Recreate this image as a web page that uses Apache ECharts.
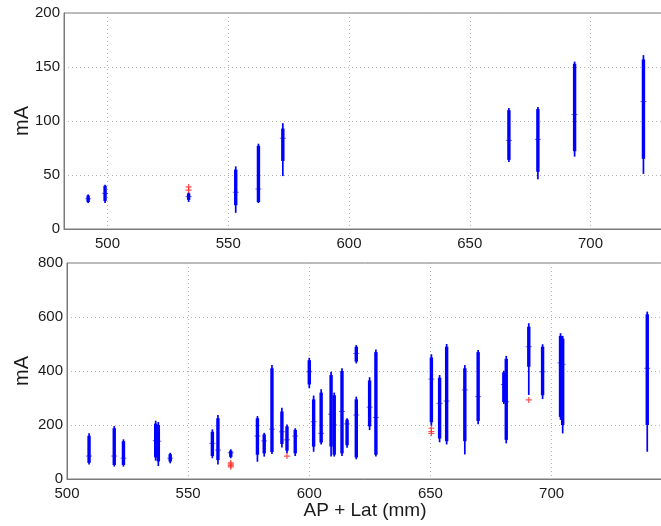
<!DOCTYPE html>
<html>
<head>
<meta charset="utf-8">
<script src="https://cdn.jsdelivr.net/npm/echarts@6/dist/echarts.min.js"></script>
<style>
html,body{margin:0;padding:0;background:#fff;}
#chart{width:661px;height:526px;}
</style>
</head>
<body>
<div id="chart"></div>
<script>
// ---------- Top panel data ----------
var topX    = [492, 499, 533.6, 553.1, 562.5, 572.6, 666.2, 678.2, 693.4, 721.9];
var topLow  = [24, 24, 25, 15, 24, 49, 62, 46, 67, 51];
var topQ1   = [25, 26, 27, 22, 25, 63, 64, 53, 72, 65];
var topMed  = [28, 33, 30, 34, 37, 84, 82, 83, 106, 118];
var topQ3   = [31, 40, 33, 55, 77, 93, 110, 111, 153, 157];
var topHigh = [32, 41, 34, 58, 79, 98, 112, 113, 155, 161];
var topOutX = [533.6, 533.6];
var topOutY = [36, 39];

// ---------- Bottom panel data ----------
var botX    = [509.1, 519.5, 523.3, 536.6, 537.7, 542.6, 560, 562.3, 567.6, 578.6, 581.4, 584.6, 588.7, 590.8, 594.2, 600, 601.8, 604.9, 609, 610.3, 613.5, 615.6, 619.4, 619.4, 624.9, 627.5, 650.4, 653.8, 656.7, 664.2, 669.7, 680.3, 681.3, 690.6, 696.3, 703.7, 704.6, 739.5];
var botLow  = [54, 46, 46, 68, 48, 58, 77, 54, 77, 64, 83, 93, 117, 95, 85, 336, 101, 128, 83, 83, 85, 116, 428, 73, 181, 83, 196, 136, 128, 91, 203, 278, 132, 311, 296, 219, 169, 101];
var botQ1   = [60, 52, 52, 80, 65, 65, 85, 70, 82, 90, 95, 100, 130, 105, 95, 350, 120, 135, 120, 90, 95, 125, 435, 80, 195, 90, 210, 150, 140, 140, 215, 285, 145, 416, 310, 230, 200, 200];
var botMed  = [85, 85, 77, 142, 140, 77, 132, 107, 97, 159, 141, 185, 175, 145, 159, 397, 212, 169, 240, 200, 250, 204, 465, 237, 266, 228, 370, 280, 289, 330, 305, 350, 286, 490, 397, 430, 425, 410];
var botQ3   = [160, 188, 140, 205, 200, 92, 175, 225, 105, 225, 165, 410, 250, 195, 182, 440, 295, 320, 385, 310, 400, 220, 490, 295, 365, 470, 450, 375, 490, 410, 470, 395, 445, 564, 490, 530, 520, 610];
var botHigh = [169, 196, 147, 216, 211, 97, 184, 237, 110, 233, 171, 422, 264, 202, 188, 449, 309, 332, 397, 320, 410, 225, 496, 305, 377, 480, 462, 385, 500, 422, 478, 401, 456, 577, 499, 540, 530, 620];
var botOutX = [567.6, 567.6, 567.6, 567.6, 590.8, 650.4, 650.4, 650.4, 690.6];
var botOutY = [45, 50, 55, 60, 85, 169, 176, 188, 293];

// tick labels
var topXTicks = [500, 550, 600, 650, 700];
var botXTicks = [500, 550, 600, 650, 700];

function zip6(x, a, b, c, d, e) {
  var out = [];
  for (var i = 0; i < x.length; i++) out.push([x[i], a[i], b[i], c[i], d[i], e[i]]);
  return out;
}
function zip2(x, y) {
  var out = [];
  for (var i = 0; i < x.length; i++) out.push([x[i], y[i]]);
  return out;
}

var BLUE = '#0000ff';
function renderCol(params, api) {
  var x = api.value(0);
  var pLo = api.coord([x, api.value(1)]);
  var pQ1 = api.coord([x, api.value(2)]);
  var pMed = api.coord([x, api.value(3)]);
  var pQ3 = api.coord([x, api.value(4)]);
  var pHi = api.coord([x, api.value(5)]);
  return {
    type: 'group',
    children: [
      {type: 'line', shape: {x1: pLo[0], y1: pLo[1], x2: pHi[0], y2: pHi[1]}, style: {stroke: BLUE, lineWidth: 1.7}},
      {type: 'line', shape: {x1: pQ1[0], y1: pQ1[1], x2: pQ3[0], y2: pQ3[1]}, style: {stroke: BLUE, lineWidth: 3.4}},
      {type: 'line', shape: {x1: pMed[0] - 3, y1: pMed[1], x2: pMed[0] + 3, y2: pMed[1]}, style: {stroke: BLUE, lineWidth: 1, opacity: 0.6}}
    ]
  };
}

var FONT = "'Liberation Sans', Arial, sans-serif";
var TXT = '#1a1a1a';
var AXC = '#7a7a7a';
var PLUS = 'path://M4,0H6V4H10V6H6V10H4V6H0V4H4Z';

function xAxisCfg(gi, min, max, ticks, name) {
  return {
    type: 'value', gridIndex: gi, min: min, max: max,
    minInterval: 50, maxInterval: 50,
    name: name || '', nameLocation: 'middle', nameGap: 22, nameMoveOverlap: false,
    nameTextStyle: {fontFamily: FONT, fontSize: 19, color: TXT},
    axisLine: {show: true, onZero: false, lineStyle: {color: AXC, width: 1}},
    axisTick: {show: false},
    axisLabel: {
      fontFamily: FONT, fontSize: 15, color: TXT, margin: 7,
      showMinLabel: true, showMaxLabel: true, hideOverlap: false,
      formatter: function (v) { return ticks.indexOf(v) >= 0 ? String(v) : ''; }
    },
    splitLine: {show: true, lineStyle: {color: '#b4b4b4', type: [1, 3], width: 1}}
  };
}
function yAxisCfg(gi, max, interval, gap) {
  return {
    type: 'value', gridIndex: gi, min: 0, max: max, interval: interval,
    name: 'mA', nameLocation: 'middle', nameGap: gap, nameRotate: 90, nameMoveOverlap: false,
    nameTextStyle: {fontFamily: FONT, fontSize: 20, color: TXT},
    axisLine: {show: true, lineStyle: {color: AXC, width: 1}},
    axisTick: {show: false},
    axisLabel: {fontFamily: FONT, fontSize: 15, color: TXT, margin: 4},
    splitLine: {show: true, lineStyle: {color: '#b4b4b4', type: [1, 3], width: 1}}
  };
}

var chart = echarts.init(document.getElementById('chart'), null, {renderer: 'canvas'});
chart.setOption({
  backgroundColor: '#ffffff',
  animation: false,
  grid: [
    {left: 64, top: 13, right: -2, height: 216, show: true, borderColor: AXC, borderWidth: 1,
     backgroundColor: 'transparent', outerBoundsMode: 'none', containLabel: false},
    {left: 67, top: 263, right: -2, height: 216, show: true, borderColor: AXC, borderWidth: 1,
     backgroundColor: 'transparent', outerBoundsMode: 'none', containLabel: false}
  ],
  xAxis: [
    xAxisCfg(0, 482, 730, topXTicks),
    xAxisCfg(1, 500, 746, botXTicks, 'AP + Lat (mm)')
  ],
  yAxis: [
    yAxisCfg(0, 200, 50, 32),
    yAxisCfg(1, 800, 200, 35)
  ],
  series: [
    {type: 'custom', xAxisIndex: 0, yAxisIndex: 0, renderItem: renderCol,
     encode: {x: 0, y: [1, 2, 3, 4, 5]}, data: zip6(topX, topLow, topQ1, topMed, topQ3, topHigh), clip: true},
    {type: 'scatter', xAxisIndex: 0, yAxisIndex: 0, symbol: PLUS, symbolSize: 6,
     itemStyle: {color: '#ff3030', opacity: 0.85}, data: zip2(topOutX, topOutY)},
    {type: 'custom', xAxisIndex: 1, yAxisIndex: 1, renderItem: renderCol,
     encode: {x: 0, y: [1, 2, 3, 4, 5]}, data: zip6(botX, botLow, botQ1, botMed, botQ3, botHigh), clip: true},
    {type: 'scatter', xAxisIndex: 1, yAxisIndex: 1, symbol: PLUS, symbolSize: 6,
     itemStyle: {color: '#ff3030', opacity: 0.85}, data: zip2(botOutX, botOutY)}
  ]
});
</script>
</body>
</html>
